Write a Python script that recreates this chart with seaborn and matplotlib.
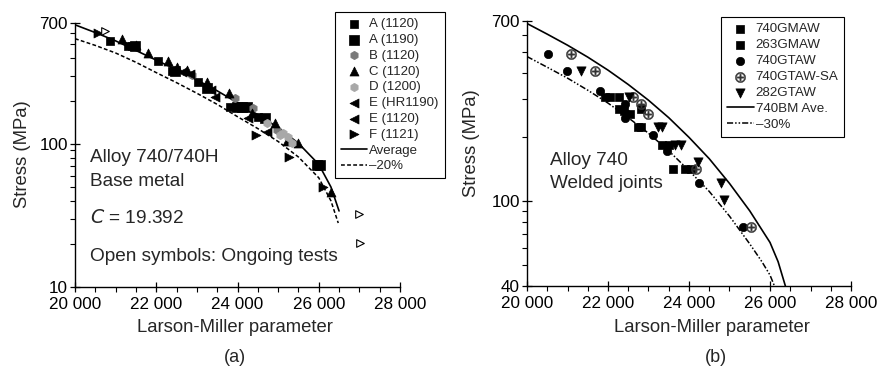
import matplotlib
matplotlib.use("Agg")
import matplotlib.pyplot as plt
import seaborn as sns
from matplotlib.ticker import FixedLocator, FuncFormatter, NullFormatter, MultipleLocator

sns.set_style("ticks")
plt.rcParams["font.family"] = ["Liberation Sans", "DejaVu Sans"]
plt.rcParams["mathtext.fontset"] = "dejavusans"

# ---------------- panel (a) data ----------------
avg_lmp = [20000, 20500, 21000, 21500, 22000, 22500, 23000, 23500, 24000, 24500, 25000, 25500, 26000, 26300, 26500]
avg_s = [680, 600, 525, 450, 385, 330, 280, 235, 194, 160, 130, 101, 72, 50, 34]
m20_lmp = [20000, 20500, 21000, 21500, 22000, 22500, 23000, 23500, 24000, 24500, 25000, 25500, 26000, 26300, 26480]
m20_s = [544, 488, 432, 372, 315, 268, 226, 189, 155, 128, 104, 81, 58, 40, 28]

a1120_x = [20862, 21313, 21400, 22051, 22380, 23036, 23815, 24513]
a1120_y = [528, 484, 484, 377, 324, 273, 182, 155]
a1190_x = [21477, 22460, 23257, 23979, 24100, 24225, 24677, 25949, 26031]
a1190_y = [484, 324, 245, 182, 182, 182, 151, 71, 71]
b1120_x = [22872, 23938, 24390, 24964]
b1120_y = [304, 208, 178, 125]
c1120_x = [21149, 21500, 21805, 22297, 22503, 22749, 23241, 23799, 24349, 24923, 25210, 25480, 26293]
c1120_y = [540, 492, 430, 377, 347, 330, 273, 226, 164, 139, 104, 101, 46]
d1200_x = [24718, 25050, 25128, 25251, 25333]
d1200_y = [139, 115, 120, 112, 101]
ehr_x = [22626, 22831, 23446]
ehr_y = [320, 308, 214]
e1120_x = [23350, 24267, 24718]
e1120_y = [240, 151, 122]
f1121_x = [20574, 24455, 25276, 26113]
f1121_y = [594, 116, 81, 50]
open_x = [20740, 27000, 27020]
open_y = [620, 32.4, 20.4]

# ---------------- panel (b) data ----------------
bm_lmp = [20000, 20500, 21000, 21500, 22000, 22500, 23000, 23500, 24000, 24500, 25000, 25500, 26000, 26200, 26380]
bm_s = [680, 606, 538, 473, 411, 352, 297, 246, 199, 158, 121, 90, 64, 52, 40]
m30_lmp = [20000, 20500, 21000, 21500, 22000, 22500, 23000, 23500, 24000, 24500, 25000, 25500, 25800, 26000, 26110]
m30_s = [476, 424, 377, 331, 288, 246, 208, 172, 139, 111, 85, 63, 52, 45, 40]

g740_x = [21934, 22058, 22263, 22263, 22551, 22741, 22823, 23333, 23498]
g740_y = [306, 306, 306, 269, 255, 223, 223, 183, 183]
g263_x = [22400, 22815, 23605, 23909, 24057]
g263_y = [265, 269, 142, 142, 142]
t740_x = [20518, 20988, 21811, 22411, 22411, 22480, 23111, 23457, 24255, 25333]
t740_y = [489, 407, 328, 285, 244, 255, 203, 172, 122, 76]
tsa_x = [21095, 21671, 22609, 22823, 22979, 24181, 25531]
tsa_y = [489, 407, 306, 285, 255, 142, 76]
t282_x = [21341, 22510, 23234, 23333, 23662, 23810, 24222, 24798, 24872]
t282_y = [407, 306, 223, 223, 183, 183, 152, 122, 101]

fig = plt.figure(figsize=(8.84, 3.67), dpi=100)
axL = fig.add_axes([75 / 884, 1 - 287 / 367, 325 / 884, 264 / 367])
axR = fig.add_axes([527 / 884, 1 - 286 / 367, 324 / 884, 265.2 / 367])

S = 36
def sc(ax, x, y, marker, color, label, s=S, ec=None, lw=0.5):
    sns.scatterplot(x=x, y=y, marker=marker, color=color, s=s, ax=ax,
                    edgecolor=ec if ec else color, linewidth=lw, label=label, zorder=3)

# panel (a)
sc(axL, a1120_x, a1120_y, "s", "black", "A (1120)")
sc(axL, a1190_x, a1190_y, "s", "black", "A (1190)", s=42)
sc(axL, b1120_x, b1120_y, "h", "#7a7a7a", "B (1120)")
sc(axL, c1120_x, c1120_y, "^", "black", "C (1120)", s=42)
sc(axL, d1200_x, d1200_y, "h", "#a8a8a8", "D (1200)")
sc(axL, ehr_x, ehr_y, "<", "black", "E (HR1190)", s=42)
sc(axL, e1120_x, e1120_y, "<", "black", "E (1120)", s=42)
sc(axL, f1121_x, f1121_y, ">", "black", "F (1121)", s=42)
sns.scatterplot(x=open_x, y=open_y, marker=">", s=30, facecolor="white",
                edgecolor="black", linewidth=0.8, ax=axL, legend=False, zorder=3)
sns.lineplot(x=avg_lmp, y=avg_s, color="black", lw=1.2, ax=axL, label="Average", zorder=2)
sns.lineplot(x=m20_lmp, y=m20_s, color="black", lw=1.1, linestyle=(0, (2.5, 1.5)),
             ax=axL, label="\u201320%", zorder=2)

# panel (b)
sc(axR, g740_x, g740_y, "s", "black", "740GMAW")
sc(axR, g263_x, g263_y, "s", "black", "263GMAW")
sc(axR, t740_x, t740_y, "o", "black", "740GTAW")
sc(axR, tsa_x, tsa_y, r"$\oplus$", "#333333", "740GTAW-SA", s=55, lw=0.3)
sc(axR, t282_x, t282_y, "v", "black", "282GTAW", s=44)
sns.lineplot(x=bm_lmp, y=bm_s, color="black", lw=1.2, ax=axR, label="740BM Ave.", zorder=2)
sns.lineplot(x=m30_lmp, y=m30_s, color="black", lw=1.1,
             linestyle=(0, (4, 1.3, 1, 1.3, 1, 1.3)), ax=axR, label="\u201330%", zorder=2)

fmt = FuncFormatter(lambda v, p: f"{int(round(v)):,}".replace(",", " "))
for ax, ylo, ymaj, ymin in [
    (axL, 10, [10, 100, 700], [20, 30, 40, 50, 60, 70, 80, 90, 200, 300, 400, 500, 600]),
    (axR, 40, [40, 100, 700], [50, 60, 70, 80, 90, 200, 300, 400, 500, 600]),
]:
    ax.set_yscale("log")
    ax.set_xlim(20000, 28000)
    ax.set_ylim(ylo, 700)
    ax.xaxis.set_major_locator(MultipleLocator(2000))
    ax.xaxis.set_minor_locator(MultipleLocator(500))
    ax.xaxis.set_major_formatter(fmt)
    ax.yaxis.set_major_locator(FixedLocator(ymaj))
    ax.yaxis.set_minor_locator(FixedLocator(ymin))
    ax.yaxis.set_major_formatter(FuncFormatter(lambda v, p: f"{int(round(v))}"))
    ax.yaxis.set_minor_formatter(NullFormatter())
    ax.tick_params(which="major", direction="inout", length=7, width=0.9,
                   labelsize=12.3, colors="black", pad=1.5)
    ax.tick_params(axis="x", which="major", pad=4)
    ax.tick_params(which="minor", direction="out", length=3.5, width=0.8, colors="black")
    sns.despine(ax=ax)
    for sp in ("left", "bottom"):
        ax.spines[sp].set_linewidth(1.0)
        ax.spines[sp].set_color("black")
    ax.set_xlabel("Larson-Miller parameter", fontsize=13.3)
    ax.set_ylabel("Stress (MPa)", fontsize=13.3)
    ax.xaxis.label.set_va("center")
    ax.yaxis.label.set_va("center")

axL.xaxis.set_label_coords(0.492, -0.155)
axL.yaxis.set_label_coords(-0.163, 0.504)
axR.xaxis.set_label_coords(0.571, -0.158)
axR.yaxis.set_label_coords(-0.17, 0.54)

# annotations
axL.text(0.045, 0.49, "Alloy 740/740H", transform=axL.transAxes, fontsize=13.7, va="center")
axL.text(0.045, 0.40, "Base metal", transform=axL.transAxes, fontsize=13.7, va="center")
axL.text(0.045, 0.26, "$\\it{C}$ = 19.392", transform=axL.transAxes, fontsize=13.7, va="center")
axL.text(0.045, 0.115, "Open symbols: Ongoing tests", transform=axL.transAxes, fontsize=13.7, va="center")
axR.text(0.07, 0.475, "Alloy 740", transform=axR.transAxes, fontsize=13.7, va="center")
axR.text(0.07, 0.385, "Welded joints", transform=axR.transAxes, fontsize=13.7, va="center")

fig.text(235 / 884, 1 - 358 / 367, "(a)", ha="center", va="center", fontsize=13)
fig.text(716 / 884, 1 - 358 / 367, "(b)", ha="center", va="center", fontsize=13)

def legend(ax, order, anchor, fs, ls):
    h, l = ax.get_legend_handles_labels()
    d = dict(zip(l, h))
    leg = ax.legend([d[k] for k in order], order, loc="upper left",
                    bbox_to_anchor=anchor, bbox_transform=fig.transFigure,
                    fontsize=fs, frameon=True, fancybox=False, edgecolor="black",
                    framealpha=1, handlelength=2.0, handletextpad=0.15,
                    labelspacing=ls, borderpad=0.45, borderaxespad=0)
    leg.get_frame().set_linewidth(0.8)
    return leg

legend(axL, ["A (1120)", "A (1190)", "B (1120)", "C (1120)", "D (1200)", "E (HR1190)",
             "E (1120)", "F (1121)", "Average", "\u201320%"], (335 / 884, 1 - 12 / 367), 9.5, 0.27)
legend(axR, ["740GMAW", "263GMAW", "740GTAW", "740GTAW-SA", "282GTAW", "740BM Ave.",
             "\u201330%"], (721 / 884, 1 - 17 / 367), 9.6, 0.27)

fig.savefig("out.png", dpi=100)
